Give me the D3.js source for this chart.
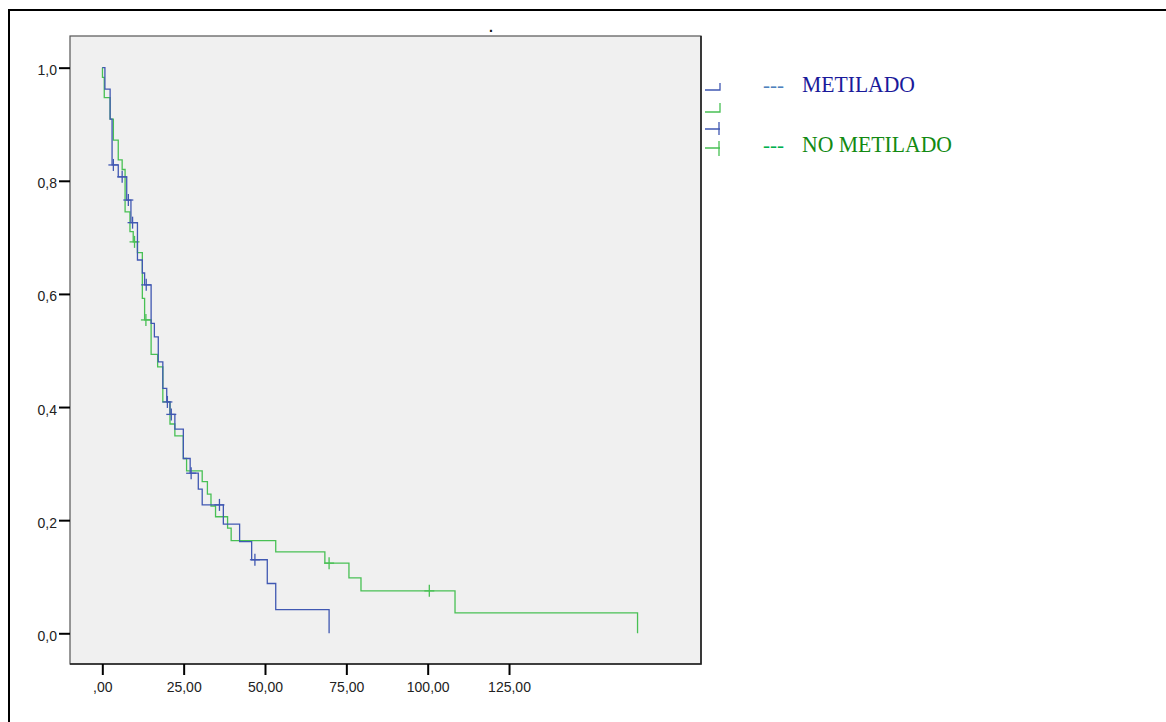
<!DOCTYPE html>
<html><head><meta charset="utf-8">
<script src="https://cdn.jsdelivr.net/npm/d3@7"></script>
<style>html,body{margin:0;padding:0;background:#fff;}svg{display:block;}</style>
</head><body>
<script>
// ---- data ----
const seriesNames = ["METILADO", "NO METILADO"];
const metTimes = [0.8, 2.4, 3.0, 4.9, 7.5, 8.8, 10.8, 12.3, 13.0, 15.0, 16.0, 17.2, 18.6, 19.8, 20.8, 22.3, 24.9, 27.0, 29.5, 30.7, 37.2, 42.2, 45.9, 50.7, 53.3, 69.7];
const metSurv  = [0.962, 0.909, 0.828, 0.807, 0.766, 0.726, 0.660, 0.637, 0.616, 0.548, 0.524, 0.480, 0.433, 0.409, 0.387, 0.361, 0.309, 0.283, 0.255, 0.227, 0.193, 0.162, 0.130, 0.088, 0.042, 0];
const metCensor = [3.4, 6.1, 8.0, 9.3, 13.5, 20.0, 21.2, 27.3, 36.0, 46.9];
const noTimes = [0.05, 0.6, 2.4, 3.4, 4.9, 6.1, 7.0, 8.5, 9.5, 10.8, 12.3, 13.0, 15.0, 17.0, 18.6, 20.8, 22.3, 24.9, 25.9, 30.7, 32.3, 33.4, 34.8, 38.5, 39.6, 53.3, 68.4, 75.8, 79.5, 108.4, 164.5];
const noSurv  = [0.983, 0.947, 0.909, 0.872, 0.837, 0.820, 0.745, 0.710, 0.692, 0.673, 0.592, 0.554, 0.493, 0.471, 0.409, 0.370, 0.349, 0.309, 0.287, 0.268, 0.246, 0.225, 0.206, 0.186, 0.164, 0.144, 0.124, 0.098, 0.075, 0.036, 0];
const noCensor = [9.9, 13.4, 69.7, 100.5];
const xTicks = [0, 25, 50, 75, 100, 125];
const xTickLabels = [",00", "25,00", "50,00", "75,00", "100,00", "125,00"];
const yTicks = [0, 0.2, 0.4, 0.6, 0.8, 1.0];
const yTickLabels = ["0,0", "0,2", "0,4", "0,6", "0,8", "1,0"];

const W = 1166, H = 722;
const plot = {l: 70, r: 701, t: 36, b: 664};
const colBlue = "#4058b2", colGreen = "#48c054";

const svg = d3.select("body").append("svg").attr("width", W).attr("height", H);

// outer frame (top + left)
svg.append("line").attr("x1", 8).attr("x2", W).attr("y1", 10).attr("y2", 10).attr("stroke", "#000").attr("stroke-width", 2);
svg.append("line").attr("x1", 9).attr("x2", 9).attr("y1", 9).attr("y2", H).attr("stroke", "#000").attr("stroke-width", 2);

// title dot
svg.append("text").attr("x", 491).attr("y", 32).attr("text-anchor", "middle")
  .attr("font-family", "Liberation Sans, Arial, sans-serif").attr("font-size", 14).attr("font-weight", "bold").attr("fill", "#111").text(".");

const x = d3.scaleLinear().domain([-9.93, 184.0]).range([plot.l, plot.r]);
const y = d3.scaleLinear().domain([-0.0543, 1.056]).range([plot.b, plot.t]);

// plot background
svg.append("rect").attr("x", plot.l).attr("y", plot.t).attr("width", plot.r - plot.l).attr("height", plot.b - plot.t)
  .attr("fill", "#f0f0f0").attr("stroke", "#555").attr("stroke-width", 1.2);
svg.append("path").attr("d", `M${plot.r},${plot.t} V${plot.b} H${plot.l}`).attr("fill", "none").attr("stroke", "#222").attr("stroke-width", 1.6);

// axes
const font = "Liberation Sans, Arial, sans-serif";
const yAxis = d3.axisLeft(y).tickValues(yTicks).tickSize(11).tickFormat((d, i) => yTickLabels[i]);
const gy = svg.append("g").attr("transform", `translate(${plot.l},0)`).call(yAxis);
gy.select(".domain").remove();
gy.selectAll(".tick line").attr("stroke", "#000").attr("stroke-width", 2);
gy.selectAll(".tick text").attr("font-family", font).attr("font-size", 14).attr("fill", "#222").attr("x", -13).attr("dy", "0.5em");

const xAxis = d3.axisBottom(x).tickValues(xTicks).tickSize(11).tickFormat((d, i) => xTickLabels[i]);
const gx = svg.append("g").attr("transform", `translate(0,${plot.b})`).call(xAxis);
gx.select(".domain").remove();
gx.selectAll(".tick line").attr("stroke", "#000").attr("stroke-width", 2);
gx.selectAll(".tick text").attr("font-family", font).attr("font-size", 14).attr("fill", "#222").attr("y", 18).attr("dy", "0.71em");

// survival curves
const line = d3.line().x(d => x(d[0])).y(d => y(d[1])).curve(d3.curveStepAfter);
function survAt(times, surv, t) {
  let s = 1;
  for (let i = 0; i < times.length; i++) { if (times[i] <= t) s = surv[i]; }
  return s;
}
function drawSeries(times, surv, censor, color) {
  const pts = [[0, 1]].concat(times.map((t, i) => [t, surv[i]]));
  svg.append("path").attr("d", line(pts)).attr("fill", "none").attr("stroke", color).attr("stroke-width", 1.3);
  const g = svg.append("g");
  censor.forEach(t => {
    const cx = x(t), cy = y(survAt(times, surv, t));
    g.append("line").attr("x1", cx - 5).attr("x2", cx + 5).attr("y1", cy).attr("y2", cy).attr("stroke", color).attr("stroke-width", 1.3);
    g.append("line").attr("x1", cx).attr("x2", cx).attr("y1", cy - 6).attr("y2", cy + 6).attr("stroke", color).attr("stroke-width", 1.3);
  });
}
drawSeries(noTimes, noSurv, noCensor, colGreen);
drawSeries(metTimes, metSurv, metCensor, colBlue);

// legend icons
const lg = svg.append("g").attr("fill", "none").attr("stroke-width", 1.3);
lg.append("path").attr("d", "M705,90 H720 V83").attr("stroke", colBlue);
lg.append("path").attr("d", "M705,112 H720 V103").attr("stroke", colGreen);
lg.append("path").attr("d", "M705,129 H720 M719,122 V135").attr("stroke", colBlue);
lg.append("path").attr("d", "M705,148 H720 M719,141 V156").attr("stroke", colGreen);

// legend text
const serif = "Liberation Serif, Times New Roman, serif";
svg.append("text").attr("x", 763).attr("y", 92).attr("font-family", serif).attr("font-size", 22).attr("fill", "#4f81bd")
  .attr("textLength", 21).attr("lengthAdjust", "spacingAndGlyphs").text("---");
svg.append("text").attr("x", 802).attr("y", 92).attr("font-family", serif).attr("font-size", 23).attr("fill", "#1a1a9a")
  .attr("textLength", 113).attr("lengthAdjust", "spacingAndGlyphs").text(seriesNames[0]);
svg.append("text").attr("x", 763).attr("y", 152).attr("font-family", serif).attr("font-size", 22).attr("fill", "#00b050")
  .attr("textLength", 21).attr("lengthAdjust", "spacingAndGlyphs").text("---");
svg.append("text").attr("x", 802).attr("y", 152).attr("font-family", serif).attr("font-size", 23).attr("fill", "#138a13")
  .attr("textLength", 150).attr("lengthAdjust", "spacingAndGlyphs").text(seriesNames[1]);
</script>
</body></html>
